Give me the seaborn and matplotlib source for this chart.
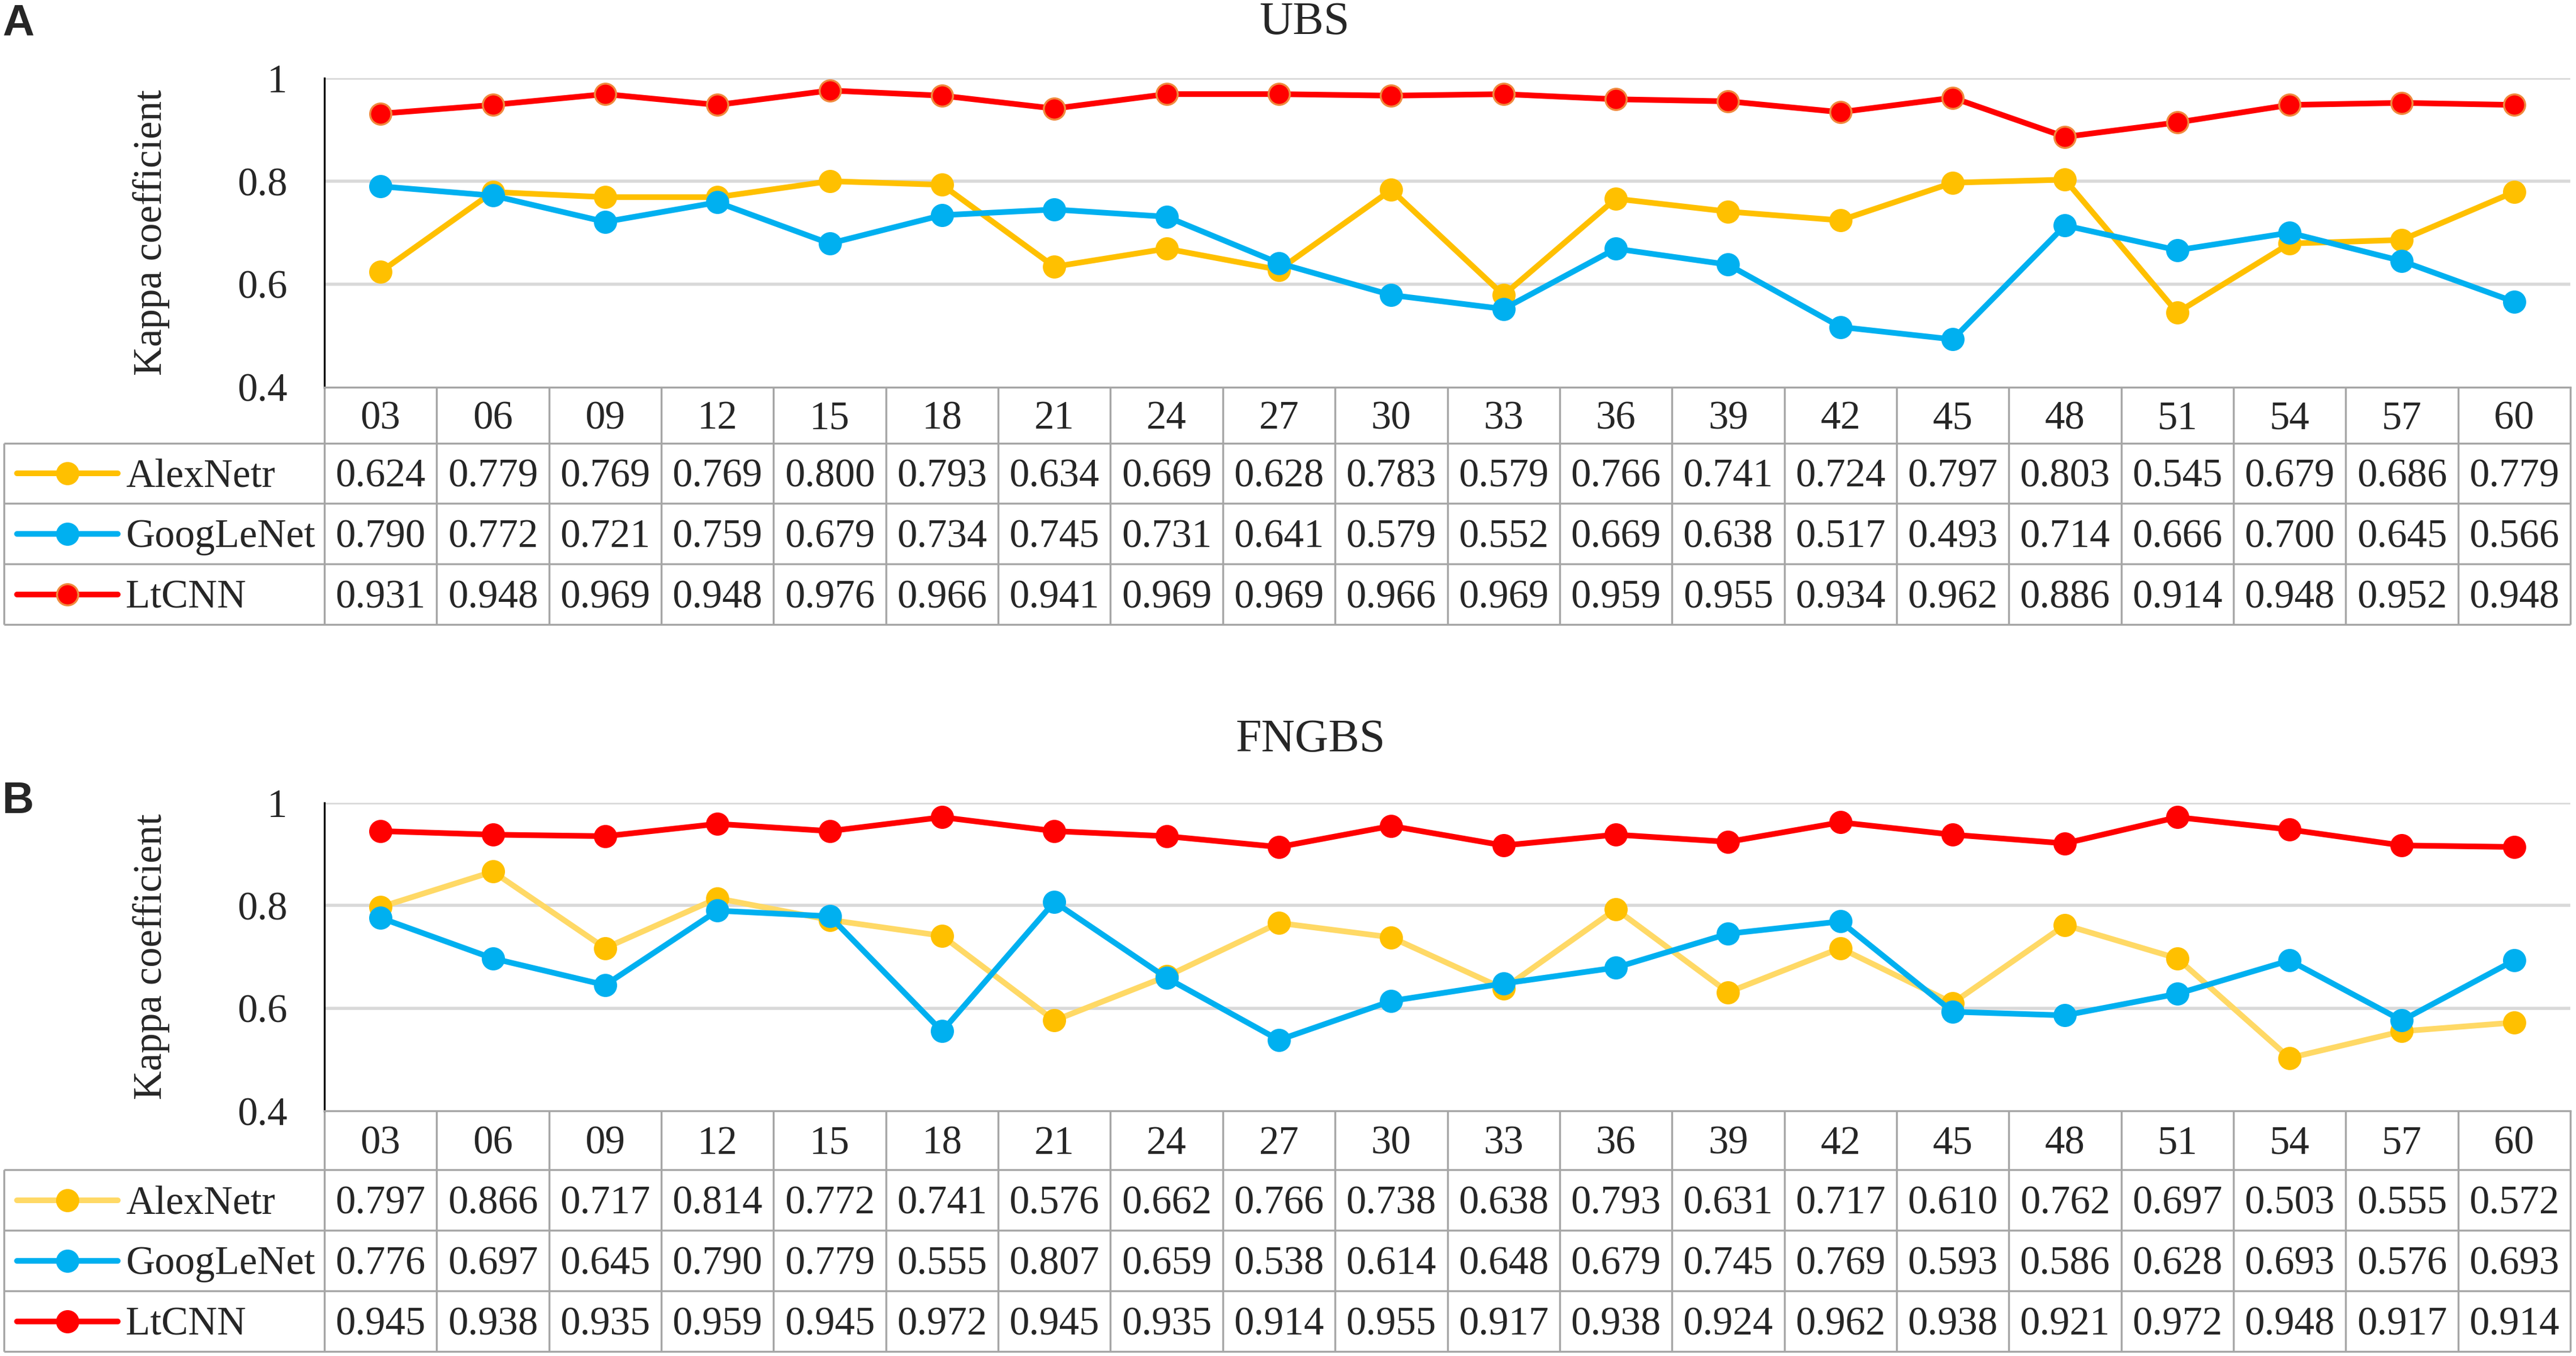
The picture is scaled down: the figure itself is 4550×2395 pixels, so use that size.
import numpy as np
import pandas as pd
import matplotlib
matplotlib.use("Agg")
import matplotlib.pyplot as plt
import seaborn as sns

categories = ["03", "06", "09", "12", "15", "18", "21", "24", "27", "30",
              "33", "36", "39", "42", "45", "48", "51", "54", "57", "60"]
models = ["AlexNetr", "GoogLeNet", "LtCNN"]

ubs_alexnet = [0.624, 0.779, 0.769, 0.769, 0.800, 0.793, 0.634, 0.669, 0.628, 0.783,
               0.579, 0.766, 0.741, 0.724, 0.797, 0.803, 0.545, 0.679, 0.686, 0.779]
ubs_googlenet = [0.790, 0.772, 0.721, 0.759, 0.679, 0.734, 0.745, 0.731, 0.641, 0.579,
                 0.552, 0.669, 0.638, 0.517, 0.493, 0.714, 0.666, 0.700, 0.645, 0.566]
ubs_ltcnn = [0.931, 0.948, 0.969, 0.948, 0.976, 0.966, 0.941, 0.969, 0.969, 0.966,
             0.969, 0.959, 0.955, 0.934, 0.962, 0.886, 0.914, 0.948, 0.952, 0.948]

fngbs_alexnet = [0.797, 0.866, 0.717, 0.814, 0.772, 0.741, 0.576, 0.662, 0.766, 0.738,
                 0.638, 0.793, 0.631, 0.717, 0.610, 0.762, 0.697, 0.503, 0.555, 0.572]
fngbs_googlenet = [0.776, 0.697, 0.645, 0.790, 0.779, 0.555, 0.807, 0.659, 0.538, 0.614,
                   0.648, 0.679, 0.745, 0.769, 0.593, 0.586, 0.628, 0.693, 0.576, 0.693]
fngbs_ltcnn = [0.945, 0.938, 0.935, 0.959, 0.945, 0.972, 0.945, 0.935, 0.914, 0.955,
               0.917, 0.938, 0.924, 0.962, 0.938, 0.921, 0.972, 0.948, 0.917, 0.914]

yticks = [0.4, 0.6, 0.8, 1.0]
ytick_labels = ["0.4", "0.6", "0.8", "1"]

# layout in pixels of the 4550 x 2395 canvas
W, H = 4550, 2395
X0, X1 = 573, 4540      # plot / data-table columns
TL = 7                  # left edge of table (legend column)
GREY = "#A6A6A6"
FS = 51

panels = [
    dict(letter="A", title="UBS", values=[ubs_alexnet, ubs_googlenet, ubs_ltcnn],
         top=138, bottom=684, rows=[783, 889, 996, 1103],
         title_x=2304, title_base=60, letter_base=63,
         line_colors=["#FFC000", "#00B0F0", "#FF0000"],
         face_colors=["#FFC000", "#00B0F0", "#FF0000"],
         edge_colors=["#FFC000", "#00B0F0", "#F08A3E"]),
    dict(letter="B", title="FNGBS", values=[fngbs_alexnet, fngbs_googlenet, fngbs_ltcnn],
         top=1418, bottom=1962, rows=[2066, 2173, 2280, 2387],
         title_x=2315, title_base=1327, letter_base=1436,
         line_colors=["#FFD966", "#00B0F0", "#FF0000"],
         face_colors=["#FFC000", "#00B0F0", "#FF0000"],
         edge_colors=["#FFC000", "#00B0F0", "#FF0000"]),
]

sns.set_theme(style="white")
plt.rcParams["font.family"] = ["Liberation Serif", "DejaVu Serif"]

fig = plt.figure(figsize=(W / 100, H / 100), dpi=100)
fig.patch.set_facecolor("white")

overlay = fig.add_axes([0, 0, 1, 1])
overlay.set_xlim(0, W)
overlay.set_ylim(H, 0)
overlay.axis("off")

col_w = (X1 - X0) / len(categories)
edges = X0 + col_w * np.arange(len(categories) + 1)
centers = X0 + col_w * (np.arange(len(categories)) + 0.5)
base_off = 0.338 * FS * 100 / 72   # half digit height, px

for p in panels:
    ax = fig.add_axes([X0 / W, 1 - p["bottom"] / H, (X1 - X0) / W, (p["bottom"] - p["top"]) / H])
    ax.set_facecolor("none")

    df = pd.DataFrame({
        "slot": np.tile(np.arange(len(categories)), len(models)),
        "kappa": np.concatenate(p["values"]),
        "model": np.repeat(models, len(categories)),
    })
    for m, lc, fc, ec in zip(models, p["line_colors"], p["face_colors"], p["edge_colors"]):
        sns.lineplot(data=df[df["model"] == m], x="slot", y="kappa", ax=ax,
                     color=lc, linewidth=7.2, marker="o", markersize=27,
                     markerfacecolor=fc, markeredgecolor=ec, markeredgewidth=2.5,
                     errorbar=None, legend=False, zorder=3,
                     solid_joinstyle="round", solid_capstyle="round")

    ax.set_xlim(-0.5, len(categories) - 0.5)
    ax.set_ylim(0.4, 1.0)
    ax.set_xticks([])
    ax.set_yticks(yticks)
    ax.set_yticklabels(ytick_labels)
    ax.tick_params(axis="y", length=0, pad=47, labelsize=FS)
    ax.set_xlabel("")
    ax.yaxis.grid(True, color="#D9D9D9", linewidth=4)
    ax.get_ygridlines()[0].set_visible(False)
    ax.set_axisbelow(True)
    for s in ["top", "right"]:
        ax.spines[s].set_visible(False)
    ax.spines["left"].set_color("black")
    ax.spines["left"].set_linewidth(2.4)
    ax.spines["bottom"].set_color(GREY)
    ax.spines["bottom"].set_linewidth(2.5)
    ax.set_ylabel("Kappa coefficient", fontsize=FS)
    ax.yaxis.set_label_coords((300 - X0) / (X1 - X0), 0.5)

    # title and panel letter
    overlay.text(p["title_x"], p["title_base"], p["title"], ha="center", va="baseline", fontsize=59)
    overlay.text(4, p["letter_base"], p["letter"], ha="left", va="baseline", fontsize=56,
                 fontweight="bold", family=["Liberation Sans", "DejaVu Sans"])

    # data table
    rows = p["rows"]
    overlay.hlines(rows, TL, X1, color=GREY, linewidth=2.5)
    overlay.vlines(edges, p["bottom"], rows[-1], color=GREY, linewidth=2.5)
    overlay.vlines([TL], rows[0], rows[-1], color=GREY, linewidth=2.5)

    head_y = (p["bottom"] + rows[0]) / 2 + base_off
    for cx, cat in zip(centers, categories):
        overlay.text(cx, head_y, cat, ha="center", va="baseline", fontsize=FS)

    for r, (m, vals) in enumerate(zip(models, p["values"])):
        yc = (rows[r] + rows[r + 1]) / 2
        for cx, v in zip(centers, vals):
            overlay.text(cx, yc + base_off, f"{v:.3f}", ha="center", va="baseline", fontsize=FS)
        overlay.plot([30, 208], [yc, yc], color=p["line_colors"][r], linewidth=7.2,
                     solid_capstyle="round")
        overlay.plot([119], [yc], marker="o", markersize=27, markerfacecolor=p["face_colors"][r],
                     markeredgecolor=p["edge_colors"][r], markeredgewidth=2.5, linestyle="none")
        overlay.text(222, yc + base_off, m, ha="left", va="baseline", fontsize=FS)

fig.savefig("out.png", dpi=100, facecolor="white")
